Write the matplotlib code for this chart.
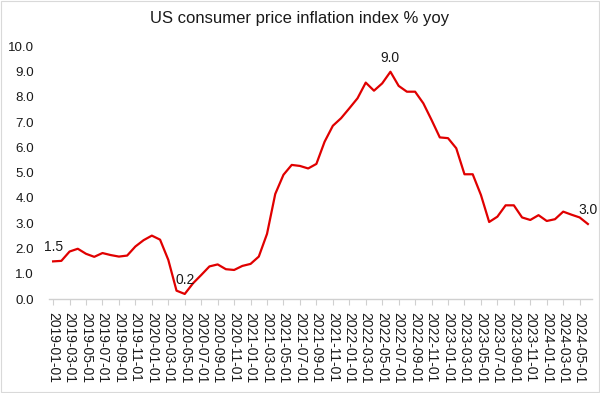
import matplotlib
matplotlib.use("Agg")
import matplotlib.pyplot as plt
from matplotlib.patches import Rectangle
import pandas as pd

dates = pd.date_range("2019-01-01", "2024-06-01", freq="MS")
cpi_yoy = [1.49, 1.51, 1.88, 1.99, 1.79, 1.67, 1.82, 1.74, 1.68, 1.72, 2.08, 2.33,
           2.51, 2.35, 1.55, 0.33, 0.20, 0.62, 0.95, 1.29, 1.37, 1.18, 1.15, 1.31,
           1.39, 1.68, 2.58, 4.16, 4.92, 5.31, 5.27, 5.17, 5.35, 6.23, 6.86, 7.16,
           7.55, 7.95, 8.57, 8.25, 8.54, 9.00, 8.44, 8.21, 8.21, 7.75, 7.09, 6.40,
           6.37, 5.97, 4.94, 4.94, 4.12, 3.05, 3.26, 3.71, 3.71, 3.23, 3.13, 3.32,
           3.09, 3.16, 3.46, 3.34, 3.23, 2.97]
labels = [d.strftime("%Y-%m-%d") for d in dates]
labelled_points = {0: "1.5", 16: "0.2", 41: "9.0", 65: "3.0"}

fam = ['Liberation Sans', 'DejaVu Sans']

fig = plt.figure(figsize=(6.0, 3.93), dpi=100)
W, H = 600, 393
ax = fig.add_axes([49 / W, 1 - 299 / H, (592 - 49) / W, (299 - 46.5) / H])

x = list(range(len(cpi_yoy)))
ax.plot(x, cpi_yoy, color="#E00000", lw=1.6, solid_joinstyle="round")

for i, t in labelled_points.items():
    ax.annotate(t, (x[i], cpi_yoy[i]), xytext=(0, 5), textcoords="offset points",
                ha="center", va="bottom", fontsize=10, family=fam, color="#1a1a1a")

ax.set_xlim(-0.5, len(x) - 0.5)
ax.set_ylim(0, 10)
ax.set_yticks([i for i in range(0, 11)])
ax.set_yticklabels([f"{i:.1f}" for i in range(0, 11)], family=fam, fontsize=9.6, color="#1a1a1a")
ax.set_xticks(x[::2])
ax.set_xticklabels(labels[::2], rotation=270, family=fam, fontsize=10, color="#1a1a1a")

for s in ["top", "right", "left"]:
    ax.spines[s].set_visible(False)
ax.spines["bottom"].set_color("#d0d0d0")
ax.spines["bottom"].set_linewidth(1.0)
ax.tick_params(axis="y", length=0, pad=11)
ax.tick_params(axis="x", length=4, color="#d0d0d0", pad=5, direction="out")

fig.text(0.5, 1 - 19 / H, "US consumer price inflation index % yoy", ha="center", va="center",
         fontsize=12, family=fam, color="#1a1a1a")

fig.patches.append(Rectangle((0.002, 0.003), 0.996, 0.994, transform=fig.transFigure,
                             fill=False, edgecolor="#d9d9d9", lw=0.8))

fig.savefig("out.png", dpi=100)
